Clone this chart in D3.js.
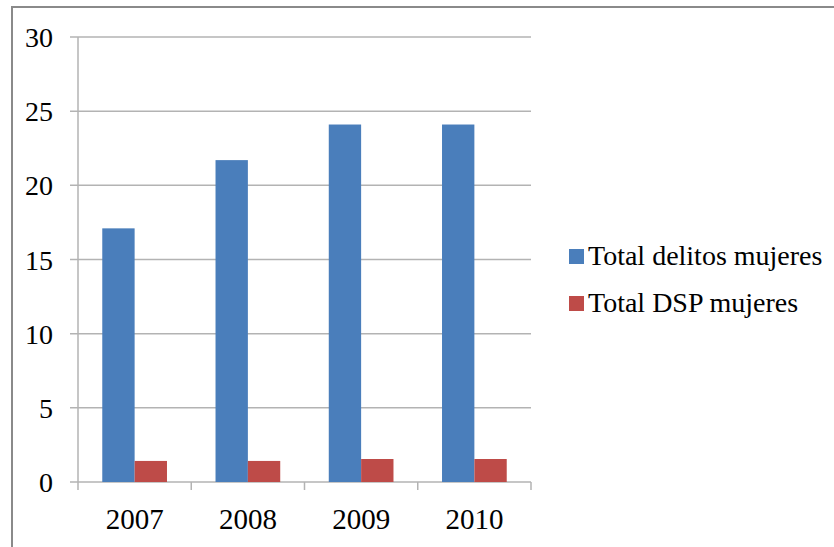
<!DOCTYPE html>
<html>
<head>
<meta charset="utf-8">
<script src="https://cdn.jsdelivr.net/npm/d3@7"></script>
<style>
  body { margin: 0; background: #fff; }
  svg { display: block; }
</style>
</head>
<body>
<svg id="chart" width="834" height="547"></svg>
<script>
// data
const years = ['2007', '2008', '2009', '2010'];
const seriesNames = ['Total delitos mujeres', 'Total DSP mujeres'];
const delitos = [17.1, 21.7, 24.1, 24.1];
const dsp = [1.42, 1.42, 1.55, 1.55];
const colors = ['#4a7ebb', '#be4b48'];
const yTicks = [0, 5, 10, 15, 20, 25, 30];

const svg = d3.select('#chart');
const font = '"Liberation Serif", "Times New Roman", serif';

// outer frame (only top/left visible)
svg.append('path')
	.attr('d', 'M12,547 V7 H834')
	.attr('fill', 'none')
	.attr('stroke', '#8a8a8a')
	.attr('stroke-width', 2);

const plot = { left: 78, right: 531, top: 37, bottom: 482 };

const x = d3.scaleBand()
	.domain(years)
	.range([plot.left, plot.right])
	.paddingInner(0)
	.paddingOuter(0);

const y = d3.scaleLinear()
	.domain([0, 30])
	.range([plot.bottom, plot.top]);

const inner = d3.scaleBand()
	.domain(seriesNames)
	.range([0, x.bandwidth()])
	.paddingOuter(0.75)
	.paddingInner(0);

// gridlines
svg.append('g')
	.selectAll('line')
	.data(yTicks)
	.join('line')
	.attr('x1', plot.left - 8)
	.attr('x2', plot.right)
	.attr('y1', d => y(d))
	.attr('y2', d => y(d))
	.attr('stroke', '#b3b3b3')
	.attr('stroke-width', 1.5);

// y axis line
svg.append('line')
	.attr('x1', plot.left).attr('x2', plot.left)
	.attr('y1', plot.top).attr('y2', plot.bottom)
	.attr('stroke', '#b3b3b3')
	.attr('stroke-width', 1.5);

// x ticks
const xBounds = years.map(d => x(d)).concat([plot.right]);
svg.append('g')
	.selectAll('line')
	.data(xBounds)
	.join('line')
	.attr('x1', d => d).attr('x2', d => d)
	.attr('y1', plot.bottom).attr('y2', plot.bottom + 8)
	.attr('stroke', '#b3b3b3')
	.attr('stroke-width', 1.5);

// bars
const groups = svg.append('g')
	.selectAll('g')
	.data(years)
	.join('g')
	.attr('transform', d => `translate(${x(d)},0)`);

groups.selectAll('rect')
	.data((d, i) => [
		{ s: seriesNames[0], v: delitos[i], c: colors[0] },
		{ s: seriesNames[1], v: dsp[i], c: colors[1] },
	])
	.join('rect')
	.attr('x', d => inner(d.s))
	.attr('width', inner.bandwidth())
	.attr('y', d => y(d.v))
	.attr('height', d => y(0) - y(d.v))
	.attr('fill', d => d.c);

// y labels
svg.append('g')
	.selectAll('text')
	.data(yTicks)
	.join('text')
	.attr('x', 53)
	.attr('y', d => y(d) + 10)
	.attr('text-anchor', 'end')
	.attr('font-family', font)
	.attr('font-size', 28)
	.attr('fill', '#000')
	.text(d => d);

// x labels
svg.append('g')
	.selectAll('text')
	.data(years)
	.join('text')
	.attr('x', d => x(d) + x.bandwidth() / 2)
	.attr('y', 529)
	.attr('text-anchor', 'middle')
	.attr('font-family', font)
	.attr('font-size', 29)
	.attr('fill', '#000')
	.text(d => d);

// legend
const legend = svg.append('g')
	.selectAll('g')
	.data(seriesNames)
	.join('g')
	.attr('transform', (d, i) => `translate(569,${249 + i * 47})`);

legend.append('rect')
	.attr('width', 15)
	.attr('height', 15)
	.attr('fill', (d, i) => colors[i]);

legend.append('text')
	.attr('x', 19)
	.attr('y', 16)
	.attr('font-family', font)
	.attr('font-size', 28)
	.attr('fill', '#000')
	.text(d => d);
</script>
</body>
</html>
